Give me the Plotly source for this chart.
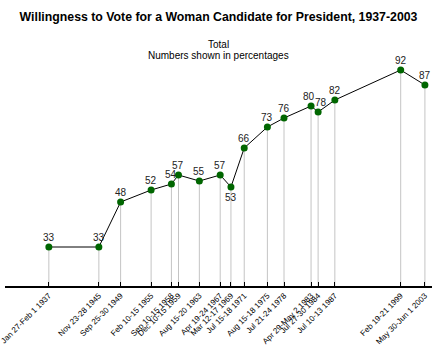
import plotly.graph_objects as go

dates = ["1937-01-27", "1945-11-23", "1949-09-25", "1955-02-10", "1958-09-10",
         "1959-12-10", "1963-08-15", "1967-04-19", "1969-03-12", "1971-07-15",
         "1975-08-15", "1978-07-21", "1983-04-29", "1984-07-27", "1987-07-10",
         "1999-02-19", "2003-05-30"]
values = [33, 33, 48, 52, 54, 57, 55, 57, 53, 66, 73, 76, 80, 78, 82, 92, 87]
tick_labels = ["Jan 27-Feb 1 1937", "Nov 23-28 1945", "Sep 25-30 1949", "Feb 10-15 1955",
               "Sep 10-15 1958", "Dec 10-15 1959", "Aug 15-20 1963", "Apr 19-24 1967",
               "Mar 12-17 1969", "Jul 15-18 1971", "Aug 15-18 1975", "Jul 21-24 1978",
               "Apr 29-May 2 1983", "Jul 27-30 1984", "Jul 10-13 1987", "Feb 19-21 1999",
               "May 30-Jun 1 2003"]

# label placement (style): above, except 1969 below; tiny nudges for 1983/1984
label_above = [True] * len(values)
label_above[8] = False
label_nudge = [0] * len(values)
label_nudge[12] = -2
label_nudge[13] = 3

y_min, y_max = 20, 100
font = "Liberation Sans, Arial, sans-serif"

drop_x, drop_y = [], []
for d, v in zip(dates, values):
    drop_x += [d, d, None]
    drop_y += [v, y_min, None]

fig = go.Figure()
fig.add_trace(go.Scatter(x=drop_x, y=drop_y, mode="lines",
                         line=dict(color="#c4c4c4", width=1), hoverinfo="skip",
                         showlegend=False))
fig.add_trace(go.Scatter(
    x=dates, y=values, mode="lines+markers",
    line=dict(color="black", width=1),
    marker=dict(color="#006600", size=7),
    showlegend=False))

annotations = [
    dict(text="Total", xref="paper", yref="paper", x=0.5, y=(286 - 44.5) / 240,
         xanchor="center", yanchor="middle", showarrow=False,
         font=dict(size=10, color="black")),
    dict(text="Numbers shown in percentages", xref="paper", yref="paper", x=0.5,
         y=(286 - 55.5) / 240, xanchor="center", yanchor="middle", showarrow=False,
         font=dict(size=10, color="black")),
]
for d, v, up, nx in zip(dates, values, label_above, label_nudge):
    annotations.append(dict(
        x=d, y=v, xref="x", yref="y", text=str(v), showarrow=False,
        xanchor="center", yanchor="middle", yshift=10 if up else -10, xshift=nx,
        font=dict(family=font, size=10, color="#222222")))

fig.update_layout(
    width=440, height=350,
    margin=dict(l=5, r=8, t=46, b=64),
    paper_bgcolor="white", plot_bgcolor="white",
    font=dict(family=font, color="black"),
    title=dict(text="<b>Willingness to Vote for a Woman Candidate for President, 1937-2003</b>",
               x=0.5, xanchor="center", xref="paper", yref="container",
               y=1 - 17 / 350, yanchor="middle",
               font=dict(size=12.3, color="black")),
    annotations=annotations,
    xaxis=dict(type="date", range=["1929-05-04", "2004-08-28"],
               tickmode="array", tickvals=dates, ticktext=tick_labels,
               tickangle=-45, tickfont=dict(size=8, color="black"),
               ticklabeloverflow="allow",
               ticks="inside", ticklen=4, tickcolor="black", tickwidth=1,
               showline=True, linecolor="black", linewidth=2,
               showgrid=False, zeroline=False, automargin=False),
    yaxis=dict(range=[y_min, y_max], visible=False, showgrid=False, zeroline=False),
)

fig.write_html("out.html")
